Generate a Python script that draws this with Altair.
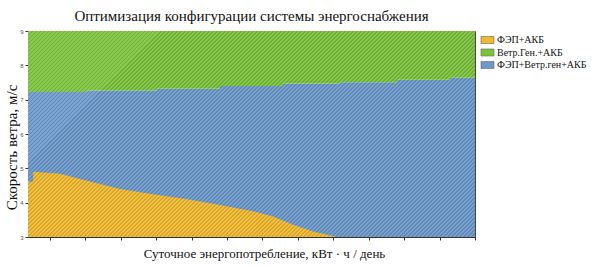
import altair as alt
import pandas as pd

# Series / categories
series_names = ["ФЭП+АКБ", "Ветр.Ген.+АКБ", "ФЭП+Ветр.ген+АКБ"]
series_colors = ["#F1B92D", "#7CC23A", "#6C98CB"]

# Yellow (ФЭП+АКБ) upper boundary
x_pv = [0.38, 0.52, 0.53, 1.28, 2.13, 2.98, 3.82, 4.87, 5.80, 6.73, 7.30, 7.86, 8.43, 9.10, 13.0]
y_pv = [4.61, 4.61, 4.90, 4.84, 4.62, 4.40, 4.26, 4.10, 3.93, 3.75, 3.60, 3.36, 3.16, 3.00, 3.00]

# Boundary between combined (blue) and wind (green) zones, stepwise
x_wind = [0.38, 2.04, 4.02, 5.80, 7.58, 9.19, 10.80, 12.29, 13.0]
y_wind = [7.22, 7.27, 7.32, 7.40, 7.47, 7.51, 7.58, 7.64, 7.64]

y_min, y_max = 3, 9
x_min, x_max = 0.38, 13.0
x_ticks = list(range(1, 14))
y_ticks = list(range(3, 10))

df_pv = pd.DataFrame({"xv": x_pv, "lo": [y_min] * len(x_pv), "hi": y_pv, "s": series_names[0]})
df_blue = pd.DataFrame({"xv": x_wind, "lo": [y_min] * len(x_wind), "hi": y_wind, "s": series_names[2]})
df_green = pd.DataFrame({"xv": x_wind, "lo": y_wind, "hi": [y_max] * len(x_wind), "s": series_names[1]})
df_frame = pd.DataFrame({"xv": [x_min], "xv2": [x_max], "lo": [y_min], "hi": [y_max]})

W, H = 447, 206
serif = "Liberation Serif"

# diagonal hatch texture as a striped linear gradient (style only)
period = 4.0
n_stripes = int((W + H) / period)
stops = []
for k in range(n_stripes):
    a = k / n_stripes
    b = (k + 0.45) / n_stripes
    c = (k + 1) / n_stripes
    stops += [
        {"offset": a, "color": "rgba(0,0,0,0.10)"},
        {"offset": b, "color": "rgba(0,0,0,0.10)"},
        {"offset": b, "color": "rgba(255,255,255,0.10)"},
        {"offset": c, "color": "rgba(255,255,255,0.10)"},
    ]
ga = W * (W + H) / (W * W + H * H)
hatch = {"gradient": "linear", "x1": 0, "y1": 0, "x2": ga, "y2": ga * H / W, "stops": stops}

xscale = alt.Scale(domain=[x_min, x_max], nice=False, zero=False)
yscale = alt.Scale(domain=[y_min, y_max], nice=False, zero=False)
color = alt.Color("s:N", scale=alt.Scale(domain=series_names, range=series_colors),
                  legend=alt.Legend(title=None, orient="none", legendX=454, legendY=3.5,
                                    symbolType="M-1.3,-0.7H1.3V0.7H-1.3Z", symbolSize=100,
                                    symbolStrokeColor="#666", symbolStrokeWidth=0.6,
                                    labelFont=serif, labelFontSize=10, labelColor="#111",
                                    rowPadding=1.5))

xaxis = alt.Axis(values=x_ticks, labels=False, grid=False, tickSize=3, tickColor="#333",
                 domainColor="#333", title="Суточное энергопотребление, кВт · ч / день",
                 titleFont=serif, titleFontSize=13, titleFontWeight="normal", titleColor="#111",
                 titleX=236, titleY=16, titleBaseline="middle", titleAlign="center")
yaxis = alt.Axis(values=y_ticks, grid=False, tickSize=3, tickColor="#333", domainColor="#333",
                 labelFontSize=6, labelColor="#555", labelPadding=2,
                 title="Скорость ветра, м/с", titleFont=serif, titleFontSize=15,
                 titleFontWeight="normal", titleColor="#111", titleAngle=270,
                 titleX=-17, titleY=116, titleBaseline="middle", titleAlign="center")

def layer(df, interp):
    return alt.Chart(df).mark_area(interpolate=interp).encode(
        x=alt.X("xv:Q", scale=xscale, axis=xaxis),
        y=alt.Y("lo:Q", scale=yscale, axis=yaxis),
        y2="hi:Q",
        color=color,
    )

overlay = alt.Chart(df_frame).mark_rect(color=hatch).encode(
    x=alt.X("xv:Q", scale=xscale, axis=xaxis),
    x2="xv2:Q",
    y=alt.Y("lo:Q", scale=yscale, axis=yaxis),
    y2="hi:Q",
)

chart = alt.layer(
    layer(df_blue, "step-after"),
    layer(df_green, "step-after"),
    layer(df_pv, "linear"),
    overlay,
).properties(
    width=W, height=H,
    padding={"left": 28, "top": 31, "right": 128, "bottom": 29},
    autosize=alt.AutoSizeParams(type="none"),
    title=alt.TitleParams("Оптимизация конфигурации системы энергоснабжения",
                          font=serif, fontSize=15, fontWeight="normal", color="#111",
                          anchor="middle"),
).configure_view(stroke="#444", strokeWidth=1)

chart.save("out.html", embed_options={"renderer": "svg", "actions": False})
